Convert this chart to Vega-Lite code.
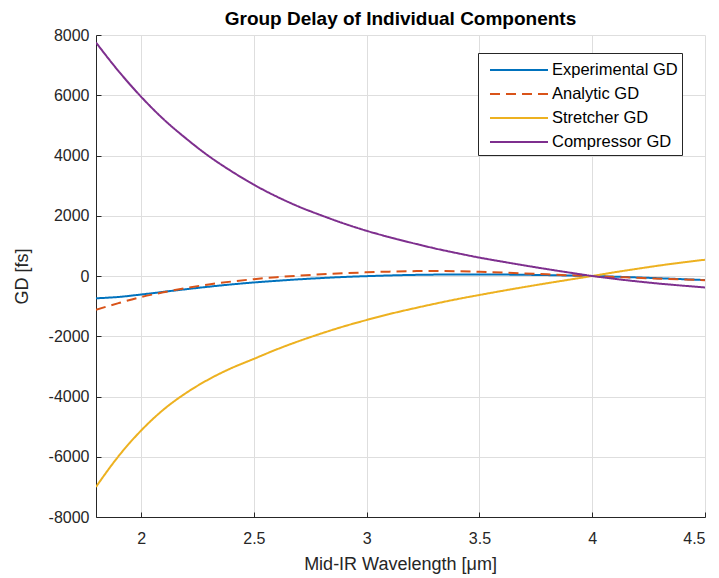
{
  "$schema": "https://vega.github.io/schema/vega-lite/v6.json",
  "width": 609,
  "height": 482,
  "autosize": {"type": "none"},
  "padding": {"left": 96, "top": 35, "right": 14, "bottom": 61},
  "background": "white",
  "config": {
    "font": "Liberation Sans",
    "view": {"stroke": null},
    "axis": {
      "domainColor": "#262626",
      "domainWidth": 1,
      "tickColor": "#262626",
      "tickSize": -5,
      "gridColor": "#dedede",
      "gridWidth": 1,
      "labelColor": "#262626",
      "labelFont": "Liberation Sans",
      "labelFontSize": 16,
      "titleFont": "Liberation Sans",
      "titleFontSize": 18,
      "titleFontWeight": "normal",
      "titleColor": "#262626"
    }
  },
  "title": {
    "text": "Group Delay of Individual Components",
    "font": "Liberation Sans",
    "fontSize": 19,
    "fontWeight": "bold",
    "color": "#000000",
    "anchor": "middle",
    "offset": -2
  },
  "data": {
    "values": [
      {"wl": 1.8, "series": "Experimental GD", "gd": -740},
      {"wl": 1.9, "series": "Experimental GD", "gd": -695},
      {"wl": 2.0, "series": "Experimental GD", "gd": -615},
      {"wl": 2.1, "series": "Experimental GD", "gd": -525},
      {"wl": 2.2, "series": "Experimental GD", "gd": -438},
      {"wl": 2.3, "series": "Experimental GD", "gd": -355},
      {"wl": 2.4, "series": "Experimental GD", "gd": -280},
      {"wl": 2.5, "series": "Experimental GD", "gd": -215},
      {"wl": 2.6, "series": "Experimental GD", "gd": -160},
      {"wl": 2.7, "series": "Experimental GD", "gd": -110},
      {"wl": 2.8, "series": "Experimental GD", "gd": -68},
      {"wl": 2.9, "series": "Experimental GD", "gd": -32},
      {"wl": 3.0, "series": "Experimental GD", "gd": -5},
      {"wl": 3.1, "series": "Experimental GD", "gd": 18},
      {"wl": 3.2, "series": "Experimental GD", "gd": 35},
      {"wl": 3.3, "series": "Experimental GD", "gd": 46},
      {"wl": 3.4, "series": "Experimental GD", "gd": 52},
      {"wl": 3.5, "series": "Experimental GD", "gd": 52},
      {"wl": 3.6, "series": "Experimental GD", "gd": 48},
      {"wl": 3.7, "series": "Experimental GD", "gd": 40},
      {"wl": 3.8, "series": "Experimental GD", "gd": 30},
      {"wl": 3.9, "series": "Experimental GD", "gd": 15},
      {"wl": 4.0, "series": "Experimental GD", "gd": 0},
      {"wl": 4.1, "series": "Experimental GD", "gd": -22},
      {"wl": 4.2, "series": "Experimental GD", "gd": -48},
      {"wl": 4.3, "series": "Experimental GD", "gd": -75},
      {"wl": 4.4, "series": "Experimental GD", "gd": -105},
      {"wl": 4.5, "series": "Experimental GD", "gd": -135},
      {"wl": 1.8, "series": "Analytic GD", "gd": -1120},
      {"wl": 1.9, "series": "Analytic GD", "gd": -900},
      {"wl": 2.0, "series": "Analytic GD", "gd": -700},
      {"wl": 2.1, "series": "Analytic GD", "gd": -540},
      {"wl": 2.2, "series": "Analytic GD", "gd": -400},
      {"wl": 2.3, "series": "Analytic GD", "gd": -280},
      {"wl": 2.4, "series": "Analytic GD", "gd": -185},
      {"wl": 2.5, "series": "Analytic GD", "gd": -105},
      {"wl": 2.6, "series": "Analytic GD", "gd": -40},
      {"wl": 2.7, "series": "Analytic GD", "gd": 10},
      {"wl": 2.8, "series": "Analytic GD", "gd": 55},
      {"wl": 2.9, "series": "Analytic GD", "gd": 92},
      {"wl": 3.0, "series": "Analytic GD", "gd": 122},
      {"wl": 3.1, "series": "Analytic GD", "gd": 145},
      {"wl": 3.2, "series": "Analytic GD", "gd": 160},
      {"wl": 3.3, "series": "Analytic GD", "gd": 165},
      {"wl": 3.4, "series": "Analytic GD", "gd": 158},
      {"wl": 3.5, "series": "Analytic GD", "gd": 140},
      {"wl": 3.6, "series": "Analytic GD", "gd": 115},
      {"wl": 3.7, "series": "Analytic GD", "gd": 85},
      {"wl": 3.8, "series": "Analytic GD", "gd": 55},
      {"wl": 3.9, "series": "Analytic GD", "gd": 25},
      {"wl": 4.0, "series": "Analytic GD", "gd": 0},
      {"wl": 4.1, "series": "Analytic GD", "gd": -30},
      {"wl": 4.2, "series": "Analytic GD", "gd": -60},
      {"wl": 4.3, "series": "Analytic GD", "gd": -88},
      {"wl": 4.4, "series": "Analytic GD", "gd": -115},
      {"wl": 4.5, "series": "Analytic GD", "gd": -140},
      {"wl": 1.8, "series": "Stretcher GD", "gd": -7000},
      {"wl": 1.9, "series": "Stretcher GD", "gd": -5980},
      {"wl": 2.0, "series": "Stretcher GD", "gd": -5130},
      {"wl": 2.1, "series": "Stretcher GD", "gd": -4430},
      {"wl": 2.2, "series": "Stretcher GD", "gd": -3880},
      {"wl": 2.3, "series": "Stretcher GD", "gd": -3430},
      {"wl": 2.4, "series": "Stretcher GD", "gd": -3060},
      {"wl": 2.5, "series": "Stretcher GD", "gd": -2750},
      {"wl": 2.6, "series": "Stretcher GD", "gd": -2440},
      {"wl": 2.7, "series": "Stretcher GD", "gd": -2160},
      {"wl": 2.8, "series": "Stretcher GD", "gd": -1905},
      {"wl": 2.9, "series": "Stretcher GD", "gd": -1670},
      {"wl": 3.0, "series": "Stretcher GD", "gd": -1460},
      {"wl": 3.1, "series": "Stretcher GD", "gd": -1265},
      {"wl": 3.2, "series": "Stretcher GD", "gd": -1090},
      {"wl": 3.3, "series": "Stretcher GD", "gd": -925},
      {"wl": 3.4, "series": "Stretcher GD", "gd": -770},
      {"wl": 3.5, "series": "Stretcher GD", "gd": -630},
      {"wl": 3.6, "series": "Stretcher GD", "gd": -495},
      {"wl": 3.7, "series": "Stretcher GD", "gd": -365},
      {"wl": 3.8, "series": "Stretcher GD", "gd": -240},
      {"wl": 3.9, "series": "Stretcher GD", "gd": -120},
      {"wl": 4.0, "series": "Stretcher GD", "gd": 0},
      {"wl": 4.1, "series": "Stretcher GD", "gd": 125},
      {"wl": 4.2, "series": "Stretcher GD", "gd": 240},
      {"wl": 4.3, "series": "Stretcher GD", "gd": 350},
      {"wl": 4.4, "series": "Stretcher GD", "gd": 450},
      {"wl": 4.5, "series": "Stretcher GD", "gd": 540},
      {"wl": 1.8, "series": "Compressor GD", "gd": 7750},
      {"wl": 1.9, "series": "Compressor GD", "gd": 6800},
      {"wl": 2.0, "series": "Compressor GD", "gd": 5950},
      {"wl": 2.1, "series": "Compressor GD", "gd": 5200},
      {"wl": 2.2, "series": "Compressor GD", "gd": 4560},
      {"wl": 2.3, "series": "Compressor GD", "gd": 3980},
      {"wl": 2.4, "series": "Compressor GD", "gd": 3480},
      {"wl": 2.5, "series": "Compressor GD", "gd": 3030},
      {"wl": 2.6, "series": "Compressor GD", "gd": 2640},
      {"wl": 2.7, "series": "Compressor GD", "gd": 2300},
      {"wl": 2.8, "series": "Compressor GD", "gd": 2010},
      {"wl": 2.9, "series": "Compressor GD", "gd": 1740},
      {"wl": 3.0, "series": "Compressor GD", "gd": 1500},
      {"wl": 3.1, "series": "Compressor GD", "gd": 1290},
      {"wl": 3.2, "series": "Compressor GD", "gd": 1100},
      {"wl": 3.3, "series": "Compressor GD", "gd": 920},
      {"wl": 3.4, "series": "Compressor GD", "gd": 760},
      {"wl": 3.5, "series": "Compressor GD", "gd": 610},
      {"wl": 3.6, "series": "Compressor GD", "gd": 478},
      {"wl": 3.7, "series": "Compressor GD", "gd": 350},
      {"wl": 3.8, "series": "Compressor GD", "gd": 228},
      {"wl": 3.9, "series": "Compressor GD", "gd": 112},
      {"wl": 4.0, "series": "Compressor GD", "gd": 0},
      {"wl": 4.1, "series": "Compressor GD", "gd": -95},
      {"wl": 4.2, "series": "Compressor GD", "gd": -180},
      {"wl": 4.3, "series": "Compressor GD", "gd": -255},
      {"wl": 4.4, "series": "Compressor GD", "gd": -320},
      {"wl": 4.5, "series": "Compressor GD", "gd": -380}
    ]
  },
  "mark": {"type": "line", "strokeWidth": 2, "interpolate": "monotone", "clip": true},
  "encoding": {
    "x": {
      "field": "wl",
      "type": "quantitative",
      "scale": {"domain": [1.8, 4.5], "nice": false, "zero": false},
      "axis": {
        "values": [2, 2.5, 3, 3.5, 4, 4.5],
        "format": "~g",
        "labelPadding": 18,
        "title": "Mid-IR Wavelength [μm]",
        "titleX": 304,
        "titleY": 52,
        "titleBaseline": "alphabetic",
        "titleAnchor": "middle"
      }
    },
    "y": {
      "field": "gd",
      "type": "quantitative",
      "scale": {"domain": [-8000, 8000], "nice": false},
      "axis": {
        "values": [-8000, -6000, -4000, -2000, 0, 2000, 4000, 6000, 8000],
        "labelExpr": "datum.value < 0 ? '-' + format(-datum.value, 'd') : format(datum.value, 'd')",
        "labelPadding": 12,
        "title": "GD [fs]",
        "titleAngle": -90,
        "titleX": -69,
        "titleY": 241,
        "titleAlign": "center",
        "titleBaseline": "alphabetic"
      }
    },
    "color": {
      "field": "series",
      "type": "nominal",
      "sort": null,
      "scale": {
        "domain": ["Experimental GD", "Analytic GD", "Stretcher GD", "Compressor GD"],
        "range": ["#0072BD", "#D95319", "#EDB120", "#7E2F8E"]
      },
      "legend": {
        "title": null,
        "orient": "none",
        "legendX": 382,
        "legendY": 18,
        "padding": 4,
        "fillColor": "white",
        "strokeColor": "#262626",
        "symbolType": "M-2.417,0H2.417",
        "symbolSize": 576,
        "symbolStrokeWidth": 2,
        "symbolOffset": 24,
        "labelOffset": 20,
        "labelFont": "Liberation Sans",
        "labelFontSize": 16.5,
        "labelColor": "#000000",
        "rowPadding": 2,
        "labelLimit": 300
      }
    },
    "strokeDash": {
      "field": "series",
      "type": "nominal",
      "sort": null,
      "scale": {
        "domain": ["Experimental GD", "Analytic GD", "Stretcher GD", "Compressor GD"],
        "range": [[1, 0], [10, 6], [1, 0], [1, 0]]
      }
    }
  }
}
